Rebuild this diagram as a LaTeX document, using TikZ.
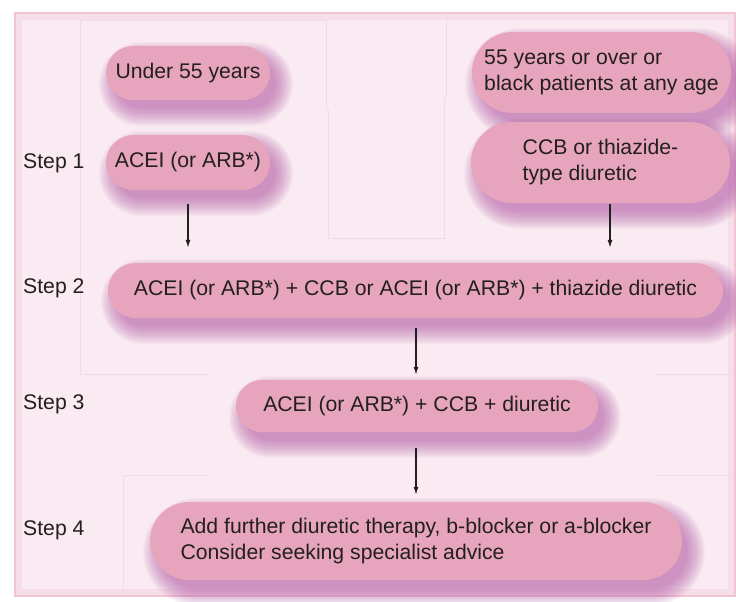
\documentclass[tikz,border=0pt]{standalone}
\usepackage{fontspec}
\setmainfont{Liberation Sans}
\usetikzlibrary{shapes.misc,arrows.meta}
\definecolor{panelbg}{HTML}{F9EBF1}
\definecolor{panelrim}{HTML}{F2C3D4}
\definecolor{faint}{HTML}{F1DAE3}
\definecolor{pillc}{HTML}{E7A4BD}
\definecolor{shc}{HTML}{B458A6}
\definecolor{txt}{HTML}{231F20}
\tikzset{
  pill/.style={rounded rectangle, fill=pillc, draw=none, inner sep=0pt, text=txt,
    font=\fontsize{21.2}{26}\selectfont},
  shadowlayer/.style={rounded rectangle, fill=shc, fill opacity=0.05, draw=none, inner sep=0pt},
  steplabel/.style={anchor=west, text=txt, font=\fontsize{21.2}{26}\selectfont, inner sep=0pt},
  arr/.style={draw=txt, line width=1.1pt, -{Latex[length=8pt,width=5pt]}},
  bgline/.style={draw=faint, line width=0.6pt}
}
\newcommand\mkpill[7]{%
  \foreach \k in {0,...,15}{%
    \pgfmathsetmacro\ww{#4-6+2.4*\k}\pgfmathsetmacro\hh{#5-6+2.4*\k}%
    \node[shadowlayer, minimum width=\ww pt, minimum height=\hh pt] at (#2+8,#3+11) {};
  }%
  \node[pill, minimum width=#4pt, minimum height=#5pt, align=#6] (#1) at (#2,#3) {#7};
}
\begin{document}
\begin{tikzpicture}[x=1pt,y=-1pt]
\useasboundingbox (0,0) rectangle (736,602);
\fill[white] (0,0) rectangle (736,602);
% panel
\fill[panelbg] (14,12) rectangle (736,597);
\draw[panelrim, line width=8pt, draw opacity=0.3] (18,16) rectangle (732,593);
\draw[panelrim, line width=1.6pt] (14.8,12.8) rectangle (735.2,596.2);
% faint background panels
\draw[bgline] (80,110) -- (80,20) -- (326,20) -- (326,110);
\draw[bgline] (80,110) -- (80,374) -- (208,374);
\draw[bgline] (328,110) -- (328,238) -- (444,238) -- (444,97);
\draw[bgline] (446,13) -- (446,97);
\draw[bgline] (655,374) -- (733,374);
\draw[bgline] (655,475) -- (733,475);
\draw[bgline] (123,596) -- (123,475) -- (208,475);
% step labels
\node[steplabel] (s1) at (23,163) {Step 1};
\node[steplabel] (s2) at (23,288) {Step 2};
\node[steplabel] (s3) at (23,404) {Step 3};
\node[steplabel] (s4) at (23,530) {Step 4};
% pills
\mkpill{young}{188}{73}{164}{54}{center}{Under 55 years}
\mkpill{acei}{188}{162.5}{164}{55}{center}{ACEI (or ARB*)}
\mkpill{old}{601.5}{72.5}{259}{81}{left}{55 years or over or\\black patients at any age}
\mkpill{ccb}{600.5}{162.5}{259}{81}{left}{CCB or thiazide-\\type diuretic}
\mkpill{stepB}{415.5}{290.5}{615}{55}{center}{ACEI (or ARB*) + CCB or ACEI (or ARB*) + thiazide diuretic}
\mkpill{stepC}{417}{406}{362}{52}{center}{ACEI (or ARB*) + CCB + diuretic}
\mkpill{stepD}{416}{541}{532}{78}{left}{Add further diuretic therapy, b-blocker or a-blocker\\Consider seeking specialist advice}
% arrows
\draw[arr, shorten <=14pt, shorten >=15pt] (acei.south) -- (acei.south |- stepB.north);
\draw[arr, shorten <=1pt, shorten >=15pt] ([xshift=9.5pt]ccb.south) -- ([xshift=9.5pt]ccb.south |- stepB.north);
\draw[arr, shorten <=10pt, shorten >=5pt] ([xshift=0.5pt]stepB.south) -- ([xshift=0.5pt]stepB.south |- stepC.north);
\draw[arr, shorten <=16pt, shorten >=7pt] (stepC.south -| stepB.south) ++(0.5,0) coordinate (c3) (c3) -- (c3 |- stepD.north);
\end{tikzpicture}
\end{document}
